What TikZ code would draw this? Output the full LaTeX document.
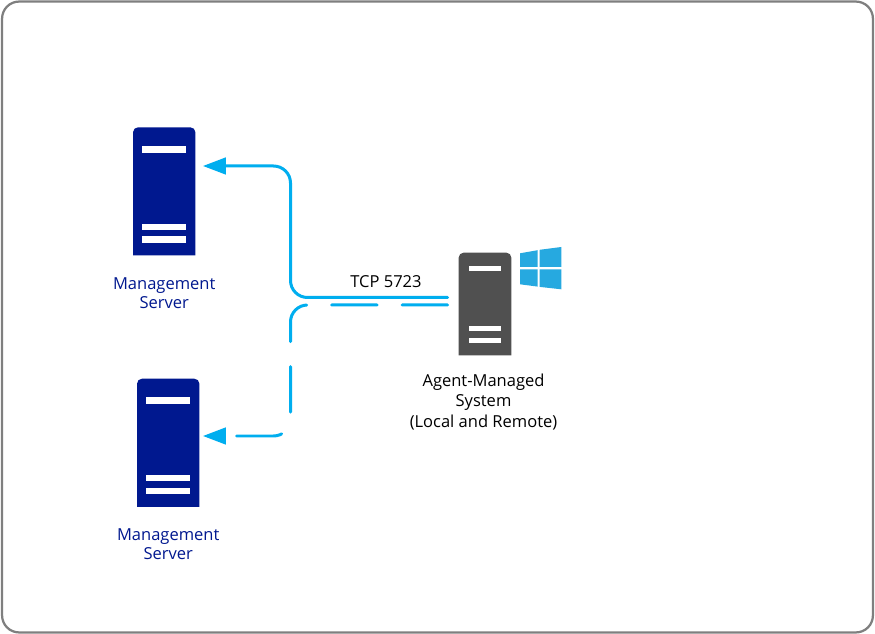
\documentclass[tikz,border=0pt]{standalone}
\usepackage{fontspec}
\setmainfont{Open Sans}
\usetikzlibrary{arrows.meta}
\definecolor{srvblue}{HTML}{00188F}
\definecolor{srvgray}{HTML}{505050}
\definecolor{linkblue}{HTML}{00AEEF}
\definecolor{winblue}{HTML}{26A9E0}
\definecolor{framegray}{HTML}{7F7F7F}

\begin{document}
\begin{tikzpicture}[x=0.020cm,y=-0.020cm,font=\fontsize{9.4pt}{11.6pt}\selectfont,
 frame/.style={draw=framegray,line width=0.45mm,rounded corners=3.4mm,fill=white},
 srvbig/.style={inner sep=0pt,minimum width=12.34mm,minimum height=25.5mm},
 srvsmall/.style={inner sep=0pt,minimum width=10.4mm,minimum height=20.4mm},
 body/.style={rounded corners=1mm},
 barbig/.style={fill=white,inner sep=0pt,minimum width=8.7mm,minimum height=1.25mm},
 barsmall/.style={fill=white,inner sep=0pt,minimum width=6.5mm,minimum height=1mm},
 link/.style={draw=linkblue,line width=0.6mm,line cap=round,rounded corners=3.4mm,-{Triangle[length=4.6mm,width=3.3mm]}},
 lab/.style={align=center,inner sep=0pt}]
\useasboundingbox (0,0) rectangle (875,634);
\node[frame,inner sep=0pt,minimum width=174.2mm,minimum height=126.2mm] (bg) at (437.5,317) {};
% servers
\node[srvbig] (ms1) at (164.2,191.4) {};
\fill[srvblue,body] (ms1.south west) -- (ms1.north west) -- (ms1.north east) [sharp corners] -- (ms1.south east) -- cycle;
\node[barbig] (ms1a) at (164.2,149.5) {};
\node[barbig] (ms1b) at (164.2,227) {};
\node[barbig] (ms1c) at (164.2,239.5) {};
\node[srvbig] (ms2) at (168.2,442.8) {};
\fill[srvblue,body] (ms2.south west) -- (ms2.north west) -- (ms2.north east) [sharp corners] -- (ms2.south east) -- cycle;
\node[barbig] (ms2a) at (168.2,400.5) {};
\node[barbig] (ms2b) at (168.2,478) {};
\node[barbig] (ms2c) at (168.2,490.7) {};
\node[srvsmall] (agent) at (485,304) {};
\fill[srvgray,body] (agent.south west) -- (agent.north west) -- (agent.north east) [sharp corners] -- (agent.south east) -- cycle;
\node[barsmall] (agenta) at (485,268.2) {};
\node[barsmall] (agentb) at (485,328.5) {};
\node[barsmall] (agentc) at (485,341) {};
% windows logo
\fill[winblue] (520,253.3) -- (537.7,250.2) -- (537.7,267) -- (520,267) -- cycle;
\fill[winblue] (539.7,249.8) -- (561.3,247) -- (561.3,267) -- (539.7,267) -- cycle;
\fill[winblue] (520,269.3) -- (537.7,269.3) -- (537.7,286.6) -- (520,284.3) -- cycle;
\fill[winblue] (539.7,269.3) -- (561.3,269.3) -- (561.3,289.3) -- (539.7,286.9) -- cycle;
% labels
\node[lab,text=srvblue] (ms1l) at (164.2,293) {Management\\[-1pt]Server};
\node[lab,text=srvblue] (ms2l) at (168.2,544) {Management\\[-1pt]Server};
\node[lab] (agentl) at (483.5,402) {Agent-Managed\\System\\(Local and Remote)};
\node[lab] (tcp) at (386,282) {TCP 5723};
% connectors
\draw[link] ([shift={(-11,-6.5)}]agent.west) -- (290.5,297.5) -- (290.5,166) -- ([shift={(7.5,-25.4)}]ms1.east);
\draw[link,dash pattern=on 9.1mm off 5mm] ([shift={(-11,1)}]agent.west) -- (290.5,305) -- (290.5,436) -- ([shift={(3.5,-6.8)}]ms2.east);
\end{tikzpicture}
\end{document}
